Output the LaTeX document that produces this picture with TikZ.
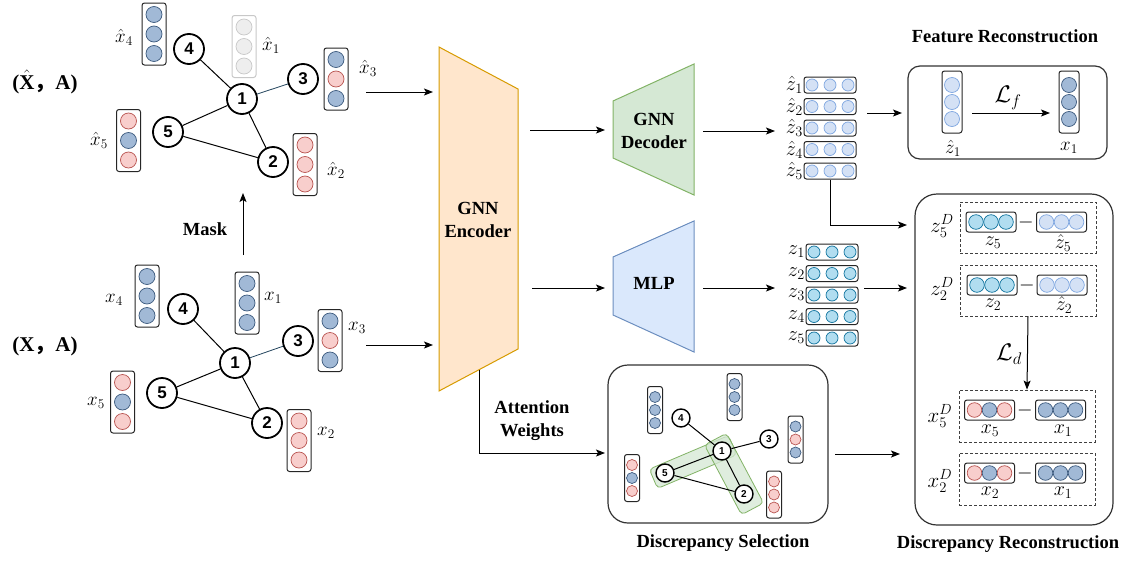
\RequirePackage{fix-cm}
\documentclass[tikz,border=0pt]{standalone}
\usepackage{fontspec}
\setmainfont{Liberation Serif}
\setsansfont{Liberation Sans}
\newfontfamily\cjk{Noto Sans CJK SC}
\usetikzlibrary{arrows.meta,calc}
\definecolor{cblue}{HTML}{A1B9D6}
\definecolor{cbluedk}{HTML}{3C5A7E}
\definecolor{cpink}{HTML}{F8CECC}
\definecolor{cpinkdk}{HTML}{B85450}
\definecolor{cgrey}{HTML}{EEEEEE}
\definecolor{cgreydk}{HTML}{C8C8C8}
\definecolor{czh}{HTML}{D4E1F5}
\definecolor{czhdk}{HTML}{7EA6E0}
\definecolor{cz}{HTML}{B1DDF0}
\definecolor{czdk}{HTML}{10739E}
\definecolor{encf}{HTML}{FFE6CC}
\definecolor{encd}{HTML}{D79B00}
\definecolor{decf}{HTML}{D5E8D4}
\definecolor{decd}{HTML}{82B366}
\definecolor{mlpf}{HTML}{DAE8FC}
\definecolor{mlpd}{HTML}{6C8EBF}
\definecolor{edgeb}{HTML}{23445D}
\tikzset{
  vbox/.style={draw=black!85, line width=1pt, rounded corners=2.5pt, fill=white, inner sep=0pt},
  gbox/.style={draw=cgreydk, line width=1pt, rounded corners=2.5pt, fill=white, inner sep=0pt},
  bl/.style={fill=cblue, draw=cbluedk, line width=0.7pt},
  pk/.style={fill=cpink, draw=cpinkdk, line width=0.7pt},
  gy/.style={fill=cgrey, draw=cgreydk, line width=0.7pt},
  zh/.style={fill=czh, draw=czhdk, line width=0.7pt},
  zz/.style={fill=cz, draw=czdk, line width=0.7pt},
  gnode/.style={circle, draw, line width=1.8pt, fill=white, minimum size=30pt, inner sep=0pt,
    font=\fontsize{17}{17}\selectfont\sffamily\bfseries},
  snode/.style={circle, draw, line width=1.4pt, fill=white, minimum size=18pt, inner sep=0pt,
    font=\fontsize{10}{10}\selectfont\sffamily\bfseries},
  edge/.style={line width=1pt, draw=black},
  lbl/.style={font=\fontsize{18.5}{23}\selectfont\bfseries, align=center, inner sep=1pt},
  xal/.style={font=\fontsize{21}{23}\selectfont\bfseries, inner sep=1pt},
  ml/.style={font=\fontsize{19}{19}\selectfont, inner sep=1pt},
  mz/.style={font=\fontsize{24}{24}\selectfont, inner sep=0.5pt},
  mst/.style={font=\fontsize{20.5}{20.5}\selectfont, inner sep=0pt},
  md/.style={font=\fontsize{21}{21}\selectfont, inner sep=1pt},
  ms/.style={font=\fontsize{20}{20}\selectfont, inner sep=1pt},
  arr/.style={-{Stealth[length=9pt,width=7pt,inset=2pt]}, line width=1pt},
  panel/.style={draw=black!80, line width=1.2pt, fill=white, inner sep=0pt},
  dbox/.style={draw=black!75, line width=0.9pt, dash pattern=on 3pt off 2pt, inner sep=0pt},
  hl/.style={draw=decd, fill=decf, fill opacity=0.75, rounded corners=4pt, line width=0.8pt, inner sep=0pt}
}
% big vertical vector: name,x,y,s1,s2,s3,boxstyle
\newcommand\bigv[7]{%
  \node[#7, minimum width=24pt, minimum height=62pt] (#1) at (#2,#3) {};
  \draw[#4] (#2,#3-19.5) circle[radius=8];
  \draw[#5] (#2,#3) circle[radius=8];
  \draw[#6] (#2,#3+19.5) circle[radius=8];}
\newcommand\mdv[6]{%
  \node[vbox, minimum width=20pt, minimum height=62pt] (#1) at (#2,#3) {};
  \draw[#4] (#2,#3-17) circle[radius=7.5];
  \draw[#5] (#2,#3) circle[radius=7.5];
  \draw[#6] (#2,#3+17) circle[radius=7.5];}
\newcommand\smv[6]{%
  \node[vbox, minimum width=15pt, minimum height=47pt] (#1) at (#2,#3) {};
  \draw[#4] (#2,#3-13) circle[radius=5.5];
  \draw[#5] (#2,#3) circle[radius=5.5];
  \draw[#6] (#2,#3+13) circle[radius=5.5];}
\newcommand\zrow[4]{%
  \node[vbox, minimum width=52pt, minimum height=16pt] (#1) at (#2,#3) {};
  \draw[#4] (#2-18,#3) circle[radius=6];
  \draw[#4] (#2,#3) circle[radius=6];
  \draw[#4] (#2+18,#3) circle[radius=6];}
\newcommand\drow[6]{%
  \node[vbox, minimum width=50pt, minimum height=20pt] (#1) at (#2,#3) {};
  \draw[#4] (#2-15,#3) circle[radius=7.3];
  \draw[#5] (#2,#3) circle[radius=7.3];
  \draw[#6] (#2+15,#3) circle[radius=7.3];}
\begin{document}
\begin{tikzpicture}[x=1pt,y=-1pt]
\useasboundingbox (0,0) rectangle (1128,560);

% ---------- top (masked) graph ----------
\node[xal] (tXA) at (45,82) {($\hat{\textbf{X}}${\cjk\bfseries，}A)};
\bigv{hx4}{154}{34}{bl}{bl}{bl}{vbox}
\bigv{hx1}{244}{46.5}{gy}{gy}{gy}{gbox}
\bigv{hx3}{336}{79}{bl}{pk}{bl}{vbox}
\bigv{hx5}{128.5}{140.5}{pk}{bl}{pk}{vbox}
\bigv{hx2}{305}{164.5}{pk}{pk}{pk}{vbox}
\node[ml] (lhx4) at (124,37) {$\hat{x}_4$};
\node[ml] (lhx1) at (271,45) {$\hat{x}_1$};
\node[ml] (lhx3) at (368,68) {$\hat{x}_3$};
\node[ml] (lhx5) at (99,140) {$\hat{x}_5$};
\node[ml] (lhx2) at (336,170) {$\hat{x}_2$};
\node[gnode] (n4) at (189,49) {4};
\node[gnode] (n1) at (242,99) {1};
\node[gnode] (n3) at (303,79) {3};
\node[gnode] (n5) at (168,132) {5};
\node[gnode] (n2) at (273,162) {2};
\draw[edge] (n4) -- (n1);
\draw[edge, draw=edgeb, line width=0.8pt] (n1) -- (n3);
\draw[edge] (n1) -- (n5);
\draw[edge] (n1) -- (n2);
\draw[edge] (n5) -- (n2);

% ---------- mask ----------
\coordinate (mk0) at (243,255);
\coordinate (mk1) at (243,193);
\draw[arr] (mk0) -- (mk1);
\node[lbl] (mask) at (205,229) {Mask};

% ---------- bottom graph ----------
\node[xal] (bXA) at (45,346) {(X{\cjk\bfseries，}A)};
\bigv{x4}{147}{296}{bl}{bl}{bl}{vbox}
\bigv{x1}{247}{303}{bl}{bl}{bl}{vbox}
\bigv{x3}{330}{340.5}{bl}{pk}{bl}{vbox}
\bigv{x5}{122.5}{402}{pk}{bl}{pk}{vbox}
\bigv{x2}{299}{440.5}{pk}{pk}{pk}{vbox}
\node[ml] (lx4) at (114,300) {$x_4$};
\node[ml] (lx1) at (273,298) {$x_1$};
\node[ml] (lx3) at (357,328) {$x_3$};
\node[ml] (lx5) at (96,403) {$x_5$};
\node[ml] (lx2) at (326,433) {$x_2$};
\node[gnode] (m4) at (183,309) {4};
\node[gnode] (m1) at (235,363) {1};
\node[gnode] (m3) at (298,341) {3};
\node[gnode] (m5) at (162,393) {5};
\node[gnode] (m2) at (267,423) {2};
\draw[edge] (m4) -- (m1);
\draw[edge, draw=edgeb, line width=0.8pt] (m1) -- (m3);
\draw[edge] (m1) -- (m5);
\draw[edge] (m1) -- (m2);
\draw[edge] (m5) -- (m2);

% ---------- encoder ----------
\draw[fill=encf, draw=encd, line width=1pt] (439,47) -- (518,89) -- (518,349) -- (439,391) -- cycle;
\node[lbl] (enc) at (478,220) {GNN\\Encoder};
\coordinate (inA) at (366,92);  \coordinate (encA) at (433,92);
\coordinate (inB) at (366,345); \coordinate (encB) at (433,345);
\draw[arr] (inA) -- (encA);
\draw[arr] (inB) -- (encB);

% ---------- decoder & MLP ----------
\draw[fill=decf, draw=decd, line width=1pt] (613,101) -- (694,64) -- (694,195) -- (613,158) -- cycle;
\node[lbl] (dec) at (654,131) {GNN\\Decoder};
\draw[fill=mlpf, draw=mlpd, line width=1pt] (613,257) -- (694,221) -- (694,352) -- (613,315) -- cycle;
\node[lbl] (mlp) at (654,283) {MLP};
\coordinate (eo1) at (530,130); \coordinate (di) at (605,130);
\coordinate (eo2) at (532,288); \coordinate (mi) at (605,288);
\draw[arr] (eo1) -- (di);
\draw[arr] (eo2) -- (mi);
\coordinate (do) at (703,131); \coordinate (zhi) at (775,131);
\coordinate (mo) at (703,288); \coordinate (zi) at (775,288);
\draw[arr] (do) -- (zhi);
\draw[arr] (mo) -- (zi);

% ---------- z-hat stack ----------
\zrow{zh1}{830}{85}{zh}
\zrow{zh2}{830}{106.5}{zh}
\zrow{zh3}{830}{128}{zh}
\zrow{zh4}{830}{149.5}{zh}
\zrow{zh5}{830}{171}{zh}
\foreach \i in {1,...,5} \node[mst, anchor=east] (lzh\i) at ([xshift=-0.5pt]zh\i.west) {$\hat{z}_\i$};
% ---------- z stack ----------
\zrow{z1}{832}{252}{zz}
\zrow{z2}{832}{273.5}{zz}
\zrow{z3}{832}{295}{zz}
\zrow{z4}{832}{316.5}{zz}
\zrow{z5}{832}{338}{zz}
\foreach \i in {1,...,5} \node[mst, anchor=east] (lz\i) at ([xshift=-0.5pt]z\i.west) {$z_\i$};

% ---------- feature reconstruction ----------
\node[lbl] (tfr) at (1005,36) {Feature Reconstruction};
\node[panel, rounded corners=12pt, minimum width=199pt, minimum height=93pt] (fr) at (1007.5,112.5) {};
\mdv{fz1}{952}{102}{zh}{zh}{zh}
\mdv{fx1}{1069}{102}{bl}{bl}{bl}
\node[ml] (lfz1) at (953,148) {$\hat{z}_1$};
\node[ml] (lfx1) at (1069,148) {$x_1$};
\coordinate (lf0) at (972,113); \coordinate (lf1) at (1050,113);
\draw[arr] (lf0) -- (lf1);
\node[mz] (Lf) at (1008,98) {$\mathcal{L}_f$};
\coordinate (zho) at (867,113); \coordinate (fri) at (902,113);
\draw[arr] (zho) -- (fri);

% ---------- discrepancy reconstruction ----------
\node[panel, rounded corners=22pt, minimum width=198pt, minimum height=331pt] (drec) at (1014,359.5) {};
\node[lbl] (tdr) at (1008,544) {Discrepancy Reconstruction};
\coordinate (dri1) at (907,225);
\draw[arr] (zh5.south) |- (dri1);
\coordinate (zo) at (864,288); \coordinate (dri2) at (907,288);
\draw[arr] (zo) -- (dri2);

\node[dbox, minimum width=136pt, minimum height=51pt] (d1) at (1028,227.5) {};
\node[dbox, minimum width=136pt, minimum height=51pt] (d2) at (1028,290.5) {};
\node[dbox, minimum width=136pt, minimum height=52pt] (d3) at (1027,416) {};
\node[dbox, minimum width=136pt, minimum height=52pt] (d4) at (1027,479) {};

\drow{r1a}{991}{222}{zz}{zz}{zz}
\drow{r1b}{1061.5}{222}{zh}{zh}{zh}
\node[ms] (mi1) at (1026,222) {$-$};
\node[ms] (lr1a) at (993,243) {$z_5$};
\node[ms] (lr1b) at (1063,243) {$\hat{z}_5$};
\node[md] (ld1) at (942,226) {$z_5^D$};

\drow{r2a}{992}{285}{zz}{zz}{zz}
\drow{r2b}{1062}{285}{zh}{zh}{zh}
\node[ms] (mi2) at (1027,285) {$-$};
\node[ms] (lr2a) at (993,305) {$z_2$};
\node[ms] (lr2b) at (1064,305) {$\hat{z}_2$};
\node[md] (ld2) at (942,289) {$z_2^D$};

\drow{r3a}{989.5}{410}{pk}{bl}{pk}
\drow{r3b}{1060.5}{410}{bl}{bl}{bl}
\node[ms] (mi3) at (1025,410) {$-$};
\node[ms] (lr3a) at (990,431) {$x_5$};
\node[ms] (lr3b) at (1063,431) {$x_1$};
\node[md] (ld3) at (940,416) {$x_5^D$};

\drow{r4a}{989.5}{473}{pk}{bl}{pk}
\drow{r4b}{1060.5}{473}{bl}{bl}{bl}
\node[ms] (mi4) at (1025,473) {$-$};
\node[ms] (lr4a) at (990,493) {$x_2$};
\node[ms] (lr4b) at (1063,493) {$x_1$};
\node[md] (ld4) at (940,481) {$x_2^D$};

\draw[arr] (d2.south) -- (d3.north);
\node[mz] (Ld) at (1009,354) {$\mathcal{L}_d$};

% ---------- discrepancy selection ----------
\node[panel, rounded corners=20pt, minimum width=220pt, minimum height=158pt] (sel) at (718,444) {};
\node[lbl] (tds) at (723,543) {Discrepancy Selection};
\coordinate (att0) at (479,370); \coordinate (att1) at (605,453);
\draw[arr] (att0) |- (att1);
\node[lbl] (attl) at (532,421) {Attention\\Weights};
\coordinate (so) at (835,454); \coordinate (dri3) at (900,454);
\draw[arr] (so) -- (dri3);

\smv{s_v4}{655}{410}{bl}{bl}{bl}
\smv{s_v1}{734.5}{397}{bl}{bl}{bl}
\smv{s_v3}{795.5}{439.5}{bl}{pk}{bl}
\smv{s_v5}{632}{478}{pk}{bl}{pk}
\smv{s_v2}{774}{494.5}{pk}{pk}{pk}
\node[hl, rotate=23, minimum width=86pt, minimum height=21pt] (hlA) at (693,462) {};
\node[hl, rotate=-62, minimum width=79pt, minimum height=25pt] (hlB) at (734,474) {};
\node[snode] (s4) at (681,418) {4};
\node[snode] (s1) at (722,451) {1};
\node[snode] (s3) at (769,439) {3};
\node[snode] (s5) at (665,473) {5};
\node[snode] (s2) at (744,494) {2};
\draw[edge] (s4) -- (s1);
\draw[edge] (s1) -- (s3);
\draw[edge] (s1) -- (s5);
\draw[edge] (s1) -- (s2);
\draw[edge] (s5) -- (s2);
\end{tikzpicture}
\end{document}
